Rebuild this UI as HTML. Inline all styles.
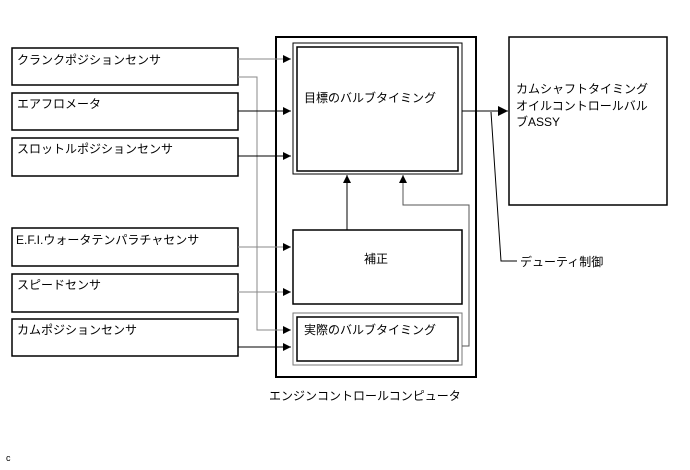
<!DOCTYPE html>
<html><head><meta charset="utf-8"><style>
body{margin:0;background:#fff;}
svg text{font-family:"Liberation Sans","Noto Sans CJK JP",sans-serif;font-size:12px;fill:#000;}
</style></head><body>
<svg width="690" height="465" viewBox="0 0 690 465" xmlns="http://www.w3.org/2000/svg">
<defs><marker id="a" markerWidth="8" markerHeight="8" refX="8" refY="4" orient="auto" markerUnits="userSpaceOnUse"><path d="M0,0 L8,4 L0,8 Z" fill="#000"/></marker>
<marker id="b" markerWidth="10" markerHeight="10" refX="10" refY="5" orient="auto" markerUnits="userSpaceOnUse"><path d="M0,0 L10,5 L0,10 Z" fill="#000"/></marker></defs>
<g fill="#fff" stroke="#000" stroke-width="1.5">
<rect x="12" y="48" width="226" height="37"/>
<rect x="12" y="93" width="226" height="37"/>
<rect x="12" y="138" width="226" height="38"/>
<rect x="12" y="228" width="226" height="38"/>
<rect x="12" y="274" width="226" height="38"/>
<rect x="12" y="319" width="226" height="37"/>
<rect x="276" y="37" width="200" height="340" stroke-width="2"/>
<rect x="293" y="43" width="169" height="131" stroke-width="1"/>
<rect x="297" y="47" width="161" height="124"/>
<rect x="293" y="230" width="169" height="74"/>
<rect x="293" y="313" width="169" height="52" stroke="#777" stroke-width="1"/>
<rect x="297" y="317" width="161" height="44"/>
<rect x="509" y="37" width="158" height="168"/>
</g>
<g fill="none" stroke-width="1">
<path d="M238 59H291" stroke="#888" marker-end="url(#a)"/>
<path d="M238 77H257V330H291" stroke="#888" marker-end="url(#a)"/>
<path d="M238 111H291" stroke="#000" marker-end="url(#a)"/>
<path d="M238 156H291" stroke="#000" marker-end="url(#a)"/>
<path d="M238 247H291" stroke="#888" marker-end="url(#a)"/>
<path d="M238 292H291" stroke="#888" marker-end="url(#a)"/>
<path d="M238 347H291" stroke="#000" marker-end="url(#a)"/>
<path d="M347 230V175" stroke="#000" marker-end="url(#a)"/>
<path d="M462 346H469V205H403V175" stroke="#555" marker-end="url(#a)"/>
<path d="M462 111H508" stroke="#000" marker-end="url(#b)"/>
<path d="M491 112L501 261H517" stroke="#000"/>
</g>
<text x="17" y="64">クランクポジションセンサ</text>
<text x="17" y="108">エアフロメータ</text>
<text x="17" y="153">スロットルポジションセンサ</text>
<text x="16" y="244">E.F.I.ウォータテンパラチャセンサ</text>
<text x="17" y="289">スピードセンサ</text>
<text x="17" y="334">カムポジションセンサ</text>
<text x="304" y="102">目標のバルブタイミング</text>
<text x="364" y="263">補正</text>
<text x="304" y="334">実際のバルブタイミング</text>
<text x="269" y="400">エンジンコントロールコンピュータ</text>
<text x="516" y="93">カムシャフトタイミング</text>
<text x="516" y="110">オイルコントロールバル</text>
<text x="516" y="126">ブASSY</text>
<text x="520" y="266">デューティ制御</text>
<text x="6" y="461" style="font-size:9px">c</text>
</svg>
</body></html>
